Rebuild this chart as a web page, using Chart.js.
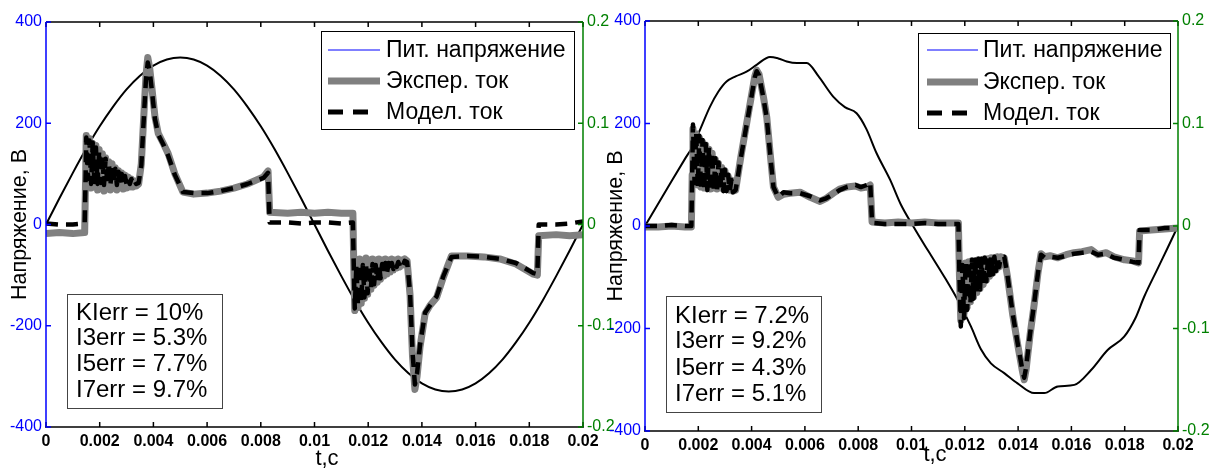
<!DOCTYPE html>
<html>
<head>
<meta charset="utf-8">
<script src="https://cdn.jsdelivr.net/npm/chart.js@4.4.1/dist/chart.umd.min.js"></script>
<style>
  html, body { margin: 0; padding: 0; background: #fff; }
  body { width: 1211px; height: 471px; position: relative; overflow: hidden; }
  .plot { position: absolute; top: 0; height: 471px; }
  #leftWrap { left: 0; width: 620px; }
  #rightWrap { left: 585px; width: 626px; }
</style>
</head>
<body>
<div class="plot" id="leftWrap"><canvas id="leftChart"></canvas></div>
<div class="plot" id="rightWrap"><canvas id="rightChart"></canvas></div>
<script>
// axis labels (time is kept in ms, shown in seconds)
const timeTickLabels = ['0', '0.002', '0.004', '0.006', '0.008', '0.01', '0.012', '0.014', '0.016', '0.018', '0.02'];
const voltTickLabels = ['-400', '-200', '0', '200', '400'];
const currTickLabels = ['-0.2', '-0.1', '0', '0.1', '0.2'];
const seriesNames = ['Пит. напряжение', 'Экспер. ток', 'Модел. ток'];

// left plot: supply voltage, V
const leftVoltTime = [0, 0.5, 1, 1.5, 2, 2.5, 3, 3.5, 4, 4.5, 5, 5.5, 6, 6.5, 7, 7.5, 8, 8.5, 9, 9.5, 10,
  10.5, 11, 11.5, 12, 12.5, 13, 13.5, 14, 14.5, 15, 15.5, 16, 16.5, 17, 17.5, 18, 18.5, 19, 19.5, 20];
const leftVoltage = [0, 52, 102, 150, 194, 233, 267, 294, 314, 326, 330, 326, 314, 294, 267, 233, 194, 150, 102, 52, 0,
  -52, -102, -150, -194, -233, -267, -294, -314, -326, -330, -326, -314, -294, -267, -233, -194, -150, -102, -52, 0];

// left plot: currents, A
const leftCurTime = [0, 0.5, 1, 1.44, 1.47, 1.5, 1.56, 1.62, 1.68, 1.74, 1.8, 1.86, 1.92, 1.98, 2.04, 2.1, 2.16, 2.22,
  2.28, 2.34, 2.4, 2.46, 2.52, 2.58, 2.64, 2.7, 2.76, 2.82, 2.88, 2.94, 3, 3.06, 3.12, 3.18, 3.24, 3.3, 3.36,
  3.45, 3.55, 3.62, 3.72, 3.79, 3.86, 3.94, 4.06, 4.18, 4.37, 4.55, 4.8, 5.1, 5.5, 6, 6.5, 7, 7.5, 8.1, 8.27,
  8.33, 9, 9.5, 10, 10.5, 11, 11.43, 11.47, 11.5, 11.56, 11.62, 11.68, 11.74, 11.8, 11.86, 11.92, 11.98, 12.04,
  12.1, 12.16, 12.22, 12.28, 12.34, 12.4, 12.46, 12.52, 12.58, 12.64, 12.7, 12.76, 12.82, 12.88, 12.94, 13,
  13.06, 13.12, 13.18, 13.24, 13.3, 13.36, 13.45, 13.56, 13.65, 13.74, 13.82, 13.93, 14.12, 14.3, 14.55, 14.8,
  15.1, 15.7, 16.3, 16.9, 17.5, 18.15, 18.3, 18.35, 19, 19.5, 20];
const leftExpCurrent = [-0.009, -0.008, -0.009, -0.008, 0.040, 0.088, 0.040, 0.085, 0.036, 0.080, 0.038, 0.078, 0.034,
  0.074, 0.036, 0.070, 0.033, 0.066, 0.035, 0.062, 0.034, 0.060, 0.036, 0.056, 0.034, 0.053, 0.036, 0.051, 0.035,
  0.049, 0.036, 0.047, 0.037, 0.045, 0.037, 0.043, 0.038,
  0.040, 0.060, 0.096, 0.146, 0.165, 0.155, 0.136, 0.106, 0.090, 0.080, 0.070, 0.050, 0.032, 0.030, 0.031, 0.033,
  0.036, 0.040, 0.047, 0.053,
  0.012, 0.011, 0.012, 0.011, 0.012, 0.011, 0.011, -0.050, -0.085, -0.036, -0.082, -0.034, -0.078, -0.035, -0.073,
  -0.033, -0.069, -0.035, -0.064, -0.034, -0.060, -0.035, -0.057, -0.034, -0.054, -0.035, -0.051, -0.034, -0.049,
  -0.035, -0.047, -0.034, -0.045, -0.035, -0.043, -0.034, -0.042, -0.035, -0.040, -0.034, -0.036, -0.070, -0.130,
  -0.163, -0.150, -0.121, -0.088, -0.080, -0.072, -0.052, -0.031, -0.031, -0.032, -0.034, -0.039, -0.049, -0.050,
  -0.011, -0.010, -0.011, -0.010];
const leftModelCurrent = [0.001, 0.000, 0.000, 0.001, 0.040, 0.086, 0.045, 0.083, 0.040, 0.081, 0.042, 0.076, 0.040,
  0.073, 0.041, 0.068, 0.039, 0.065, 0.040, 0.061, 0.039, 0.058, 0.040, 0.055, 0.039, 0.052, 0.040, 0.050, 0.039,
  0.048, 0.040, 0.046, 0.040, 0.045, 0.040, 0.043, 0.040,
  0.041, 0.058, 0.094, 0.142, 0.160, 0.152, 0.133, 0.104, 0.089, 0.079, 0.068, 0.049, 0.032, 0.031, 0.031, 0.033,
  0.036, 0.040, 0.046, 0.051,
  0.002, 0.002, 0.001, 0.002, 0.002, 0.001, 0.002, -0.050, -0.083, -0.040, -0.080, -0.039, -0.077, -0.040, -0.072,
  -0.039, -0.068, -0.040, -0.063, -0.039, -0.059, -0.040, -0.056, -0.039, -0.053, -0.039, -0.050, -0.038, -0.048,
  -0.038, -0.046, -0.038, -0.044, -0.038, -0.042, -0.037, -0.041, -0.037, -0.040, -0.036, -0.037, -0.068, -0.126,
  -0.158, -0.147, -0.119, -0.087, -0.080, -0.071, -0.051, -0.032, -0.031, -0.032, -0.034, -0.038, -0.048, -0.049,
  0.000, 0.000, 0.001, 0.003];
const leftErrors = ['KIerr = 10%', 'I3err = 5.3%', 'I5err = 7.7%', 'I7err = 9.7%'];

// right plot: supply voltage, V
const rightVoltTime = [0, 0.5, 1, 1.5, 1.75, 2, 2.44, 2.75, 3.06, 3.4, 3.81, 4.2, 4.69, 5, 5.32, 5.7, 6.07, 6.5, 7.07,
  7.5, 7.94, 8.3, 8.69, 9.2, 9.6, 10.07, 10.5, 10.73, 11.23, 11.73, 12.23, 12.6, 12.98, 13.48, 13.98, 14.6, 14.98,
  15.49, 16.11, 16.74, 17.36, 17.98, 18.4, 18.73, 19.2, 19.6, 20];
const rightVoltage = [0, 44, 88, 131, 152, 180, 233, 262, 282, 292, 301, 315, 330, 327, 321, 318, 318, 293, 252,
  232, 220, 190, 142, 90, 42, -1, -38, -57, -99, -144, -196, -240, -268, -287, -307, -326, -326,
  -313, -310, -281, -242, -216, -180, -138, -87, -44, 0];

// right plot: currents, A
const rightCurTime = [0, 0.5, 1, 1.5, 1.74, 1.77, 1.8, 1.86, 1.92, 1.98, 2.04, 2.1, 2.16, 2.22, 2.28, 2.34, 2.4, 2.46,
  2.52, 2.58, 2.64, 2.7, 2.76, 2.82, 2.88, 2.94, 3, 3.06, 3.12, 3.18, 3.24, 3.3, 3.4, 3.6, 3.8, 4, 4.12, 4.19, 4.28,
  4.45, 4.57, 4.7, 4.82, 5, 5.2, 5.44, 5.82, 6.2, 6.57, 6.8, 7.07, 7.3, 7.57, 7.9, 8.1, 8.32, 8.45, 8.52, 9, 9.5, 10,
  10.5, 11, 11.5, 11.76, 11.8, 11.85, 11.91, 11.97, 12.03, 12.09, 12.15, 12.21, 12.27, 12.33, 12.39, 12.45, 12.51,
  12.57, 12.63, 12.69, 12.75, 12.81, 12.87, 12.93, 12.99, 13.05, 13.11, 13.17, 13.23, 13.29, 13.35, 13.48, 13.6,
  13.8, 14, 14.15, 14.23, 14.3, 14.45, 14.6, 14.75, 14.86, 15, 15.2, 15.49, 15.8, 16.1, 16.4, 16.74, 17, 17.3, 17.6,
  17.99, 18.3, 18.52, 18.56, 19, 19.5, 20];
const rightExpCurrent = [-0.001, -0.001, 0.000, -0.001, -0.001, 0.050, 0.095, 0.045, 0.090, 0.040, 0.086, 0.038,
  0.082, 0.037, 0.079, 0.037, 0.075, 0.036, 0.071, 0.037, 0.065, 0.036, 0.061, 0.037, 0.057, 0.036, 0.054, 0.036,
  0.049, 0.035, 0.045, 0.034, 0.035, 0.068, 0.098, 0.128, 0.146, 0.152, 0.148, 0.125, 0.106, 0.070, 0.038, 0.028,
  0.031, 0.032, 0.033, 0.028, 0.024, 0.027, 0.032, 0.036, 0.038, 0.039, 0.037, 0.038, 0.040, 0.004, 0.003, 0.004,
  0.003, 0.004, 0.003, 0.003, 0.003, -0.050, -0.092, -0.040, -0.086, -0.036, -0.079, -0.035, -0.074, -0.034, -0.069,
  -0.034, -0.065, -0.033, -0.061, -0.033, -0.057, -0.032, -0.053, -0.032, -0.049, -0.031, -0.046, -0.031, -0.043,
  -0.030, -0.040, -0.030, -0.031, -0.049, -0.087, -0.118, -0.140, -0.150, -0.140, -0.106, -0.077, -0.045, -0.027,
  -0.030, -0.029, -0.031, -0.028, -0.026, -0.025, -0.023, -0.028, -0.026, -0.030, -0.033, -0.034, -0.036, -0.005,
  -0.004, -0.003, -0.002];
const rightModelCurrent = [0.000, 0.000, 0.001, 0.000, 0.000, 0.050, 0.099, 0.042, 0.092, 0.038, 0.088, 0.036,
  0.084, 0.035, 0.080, 0.035, 0.077, 0.034, 0.072, 0.035, 0.066, 0.034, 0.062, 0.035, 0.058, 0.034, 0.055, 0.034,
  0.050, 0.034, 0.045, 0.033, 0.035, 0.067, 0.097, 0.127, 0.145, 0.151, 0.147, 0.124, 0.105, 0.069, 0.038, 0.028,
  0.033, 0.032, 0.032, 0.029, 0.025, 0.027, 0.031, 0.035, 0.038, 0.040, 0.038, 0.040, 0.043, 0.003, 0.002, 0.002,
  0.002, 0.003, 0.002, 0.002, 0.002, -0.050, -0.098, -0.038, -0.090, -0.035, -0.082, -0.034, -0.076, -0.033, -0.071,
  -0.033, -0.066, -0.032, -0.062, -0.032, -0.058, -0.031, -0.054, -0.031, -0.050, -0.030, -0.047, -0.030, -0.044,
  -0.030, -0.040, -0.030, -0.030, -0.048, -0.086, -0.117, -0.139, -0.148, -0.138, -0.105, -0.076, -0.045, -0.028,
  -0.031, -0.030, -0.031, -0.029, -0.027, -0.026, -0.025, -0.028, -0.027, -0.031, -0.033, -0.035, -0.036, -0.004,
  -0.004, -0.002, -0.002];
const rightErrors = ['KIerr = 7.2%', 'I3err = 9.2%', 'I5err = 4.3%', 'I7err = 5.1%'];

const FONT = "'Liberation Sans', Arial, Helvetica, sans-serif";
const BLUE = '#0000ff';
const GREEN = '#008000';

// box, inward ticks, legend, error box and x label, drawn MATLAB-style
const matlabDecor = {
  id: 'matlabDecor',
  afterDraw(chart, args, o) {
    const { ctx, chartArea: a } = chart;
    const xs = chart.scales.x, yv = chart.scales.yV, yi = chart.scales.yI;
    const tk = 5;
    ctx.save();
    ctx.lineWidth = 1.5;
    ctx.setLineDash([]);

    ctx.strokeStyle = '#000';
    ctx.beginPath();
    xs.ticks.forEach(t => {
      const p = xs.getPixelForValue(t.value);
      ctx.moveTo(p, a.bottom); ctx.lineTo(p, a.bottom - tk);
      ctx.moveTo(p, a.top); ctx.lineTo(p, a.top + tk);
    });
    ctx.moveTo(a.left, a.top); ctx.lineTo(a.right, a.top);
    ctx.moveTo(a.left - 1, a.bottom); ctx.lineTo(a.right + 1, a.bottom);
    ctx.stroke();

    ctx.strokeStyle = BLUE;
    ctx.beginPath();
    yv.ticks.forEach(t => {
      const p = yv.getPixelForValue(t.value);
      ctx.moveTo(a.left, p); ctx.lineTo(a.left + tk, p);
    });
    ctx.moveTo(a.left, a.top); ctx.lineTo(a.left, a.bottom);
    ctx.stroke();

    ctx.strokeStyle = GREEN;
    ctx.beginPath();
    yi.ticks.forEach(t => {
      const p = yi.getPixelForValue(t.value);
      ctx.moveTo(a.right, p); ctx.lineTo(a.right - tk, p);
    });
    ctx.moveTo(a.right, a.top); ctx.lineTo(a.right, a.bottom);
    ctx.stroke();

    // legend
    const lg = o.legend;
    ctx.fillStyle = '#fff';
    ctx.fillRect(lg.x, lg.y, lg.w, lg.h);
    ctx.lineWidth = 1;
    ctx.strokeStyle = '#000';
    ctx.strokeRect(lg.x + 0.5, lg.y + 0.5, lg.w, lg.h);
    ctx.font = `23px ${FONT}`;
    ctx.textBaseline = 'middle';
    ctx.textAlign = 'left';
    lg.swatches.forEach((s, i) => {
      const y = lg.rows[i];
      ctx.beginPath();
      ctx.strokeStyle = s.color;
      ctx.lineWidth = s.width;
      ctx.setLineDash(s.dash);
      ctx.moveTo(lg.x1, y);
      ctx.lineTo(s.dash.length ? lg.x1 + 40 : lg.x2, y);
      ctx.stroke();
      ctx.setLineDash([]);
      ctx.fillStyle = '#000';
      ctx.fillText(seriesNames[i], lg.tx, y + 1);
    });

    // error box
    const eb = o.errBox;
    ctx.fillStyle = '#fff';
    ctx.fillRect(eb.x, eb.y, eb.w, eb.h);
    ctx.lineWidth = 1;
    ctx.strokeStyle = '#444';
    ctx.strokeRect(eb.x + 0.5, eb.y + 0.5, eb.w, eb.h);
    ctx.fillStyle = '#000';
    ctx.font = `24px ${FONT}`;
    eb.lines.forEach((txt, i) => ctx.fillText(txt, eb.tx, eb.rows[i] + 1));

    // x label
    ctx.font = `22px ${FONT}`;
    ctx.textAlign = 'center';
    ctx.fillText('t,c', o.xLabel.x, o.xLabel.y);
    ctx.restore();
  }
};

function points(ts, vs) {
  return ts.map((t, i) => ({ x: t, y: vs[i] }));
}

function buildChart(id, d, L) {
  return new Chart(document.getElementById(id), {
    type: 'line',
    data: {
      datasets: [
        { label: seriesNames[0], data: points(d.voltTime, d.voltage), yAxisID: 'yV', borderColor: '#000',
          borderWidth: 2, pointRadius: 0, cubicInterpolationMode: 'monotone', order: 3 },
        { label: seriesNames[1], data: points(d.curTime, d.expCurrent), yAxisID: 'yI', borderColor: '#808080',
          borderWidth: 7, pointRadius: 0, borderJoinStyle: 'round', order: 2 },
        { label: seriesNames[2], data: points(d.curTime, d.modelCurrent), yAxisID: 'yI', borderColor: '#000',
          borderWidth: 4.5, borderDash: [12, 8], pointRadius: 0, borderJoinStyle: 'round', order: 1 }
      ]
    },
    options: {
      responsive: true,
      maintainAspectRatio: false,
      animation: false,
      layout: { padding: { top: L.top, left: 0, right: 0, bottom: 0 } },
      plugins: {
        legend: { display: false },
        tooltip: { enabled: false },
        matlabDecor: { legend: L.legend, errBox: Object.assign({ lines: d.errors }, L.errBox), xLabel: L.xLabel }
      },
      scales: {
        x: {
          type: 'linear', position: 'bottom', min: 0, max: 20,
          grid: { display: false, drawTicks: false }, border: { display: false },
          ticks: { stepSize: 2, padding: 5, maxRotation: 0, autoSkip: false, color: '#000',
            font: { family: FONT, size: 16, weight: 'bold' }, callback: (v, i) => timeTickLabels[i] },
          afterFit: s => { s.height = L.bottom; }
        },
        yV: {
          type: 'linear', position: 'left', min: -400, max: 400,
          grid: { display: false, drawTicks: false }, border: { display: false },
          ticks: { stepSize: 200, padding: 4, color: BLUE, font: { family: FONT, size: 16 },
            callback: (v, i) => voltTickLabels[i] },
          title: { display: true, text: 'Напряжение, В', color: '#000', font: { family: FONT, size: 21.5 },
            padding: { top: L.titlePad, bottom: 0 } },
          afterFit: s => { s.width = L.left; }
        },
        yI: {
          type: 'linear', position: 'right', min: -0.2, max: 0.2,
          grid: { display: false, drawTicks: false }, border: { display: false },
          ticks: { stepSize: 0.1, padding: 4, color: GREEN, font: { family: FONT, size: 16 },
            callback: (v, i) => currTickLabels[i] },
          afterFit: s => { s.width = L.right; }
        }
      }
    },
    plugins: [matlabDecor]
  });
}

const swatches = [
  { color: BLUE, width: 1, dash: [] },
  { color: '#808080', width: 7, dash: [] },
  { color: '#000', width: 5, dash: [15, 10] }
];

buildChart('leftChart', {
  voltTime: leftVoltTime, voltage: leftVoltage, curTime: leftCurTime,
  expCurrent: leftExpCurrent, modelCurrent: leftModelCurrent, errors: leftErrors
}, {
  top: 22, bottom: 44, left: 46, right: 37, titlePad: 7.2,
  legend: { x: 321, y: 31, w: 253, h: 98, x1: 328, x2: 380, tx: 386, rows: [50, 81, 112], swatches: swatches },
  errBox: { x: 67, y: 294, w: 155, h: 114, tx: 76, rows: [312, 337, 363, 389] },
  xLabel: { x: 327, y: 459 }
});

buildChart('rightChart', {
  voltTime: rightVoltTime, voltage: rightVoltage, curTime: rightCurTime,
  expCurrent: rightExpCurrent, modelCurrent: rightModelCurrent, errors: rightErrors
}, {
  top: 21, bottom: 40, left: 60, right: 33, titlePad: 18.2,
  legend: { x: 333, y: 33, w: 252, h: 95, x1: 342, x2: 393, tx: 398, rows: [50, 82, 113], swatches: swatches },
  errBox: { x: 81, y: 296, w: 155, h: 116, tx: 90, rows: [315, 340, 367, 393] },
  xLabel: { x: 350, y: 455 }
});
</script>
</body>
</html>
